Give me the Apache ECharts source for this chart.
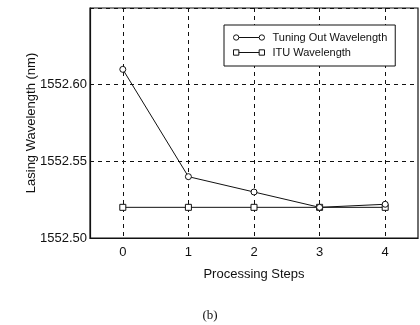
<!DOCTYPE html>
<html>
<head>
<meta charset="utf-8">
<script src="https://cdn.jsdelivr.net/npm/echarts@6/dist/echarts.min.js"></script>
<style>
  html, body { margin: 0; padding: 0; background: #fff; }
  #chart { width: 420px; height: 325px; }
</style>
</head>
<body>
<div id="chart"></div>
<script>
// Processing steps and measured lasing wavelengths (nm)
const steps = ['0', '1', '2', '3', '4'];
const tuningOut = [1552.610, 1552.540, 1552.530, 1552.520, 1552.522];
const ituWavelength = [1552.520, 1552.520, 1552.520, 1552.520, 1552.520];
const yTicks = { min: 1552.50, max: 1552.65, step: 0.05 };

const ink = '#111';
const font = 'Arial, "Liberation Sans", Helvetica, sans-serif';

// legend glyphs: marker - line - marker
const circleIcon = 'path://M1,4a2.5,2.5 0 1,0 5,0a2.5,2.5 0 1,0 -5,0M6,4L25,4M25,4a2.5,2.5 0 1,0 5,0a2.5,2.5 0 1,0 -5,0';
const squareIcon = 'path://M1,1.5L6,1.5L6,6.5L1,6.5ZM6,4L25,4M25,1.5L30,1.5L30,6.5L25,6.5Z';

const chart = echarts.init(document.getElementById('chart'), null, { renderer: 'canvas' });

chart.setOption({
  animation: false,
  backgroundColor: '#fff',
  textStyle: { fontFamily: font, color: ink },
  grid: {
    left: 90, right: 2, top: 8, bottom: 87,
    show: true, borderColor: ink, borderWidth: 1.2, backgroundColor: 'transparent'
  },
  title: {
    text: '(b)',
    left: 'center',
    bottom: -2,
    textStyle: { fontFamily: '"Liberation Serif", "DejaVu Serif", serif', fontSize: 13, fontWeight: 'normal', color: ink }
  },
  legend: {
    orient: 'vertical',
    left: 224,
    top: 25,
    padding: [7, 8, 8, 9],
    itemWidth: 31,
    itemHeight: 8,
    itemGap: 4,
    backgroundColor: '#fff',
    borderColor: ink,
    borderWidth: 1,
    textStyle: { fontFamily: font, fontSize: 11, color: ink, padding: [0, 0, 0, 3] },
    itemStyle: { color: 'transparent', borderColor: ink, borderWidth: 1 },
    data: [
      { name: 'Tuning Out Wavelength', icon: circleIcon },
      { name: 'ITU Wavelength', icon: squareIcon }
    ]
  },
  xAxis: {
    type: 'category',
    data: steps,
    boundaryGap: true,
    name: 'Processing Steps',
    nameLocation: 'middle',
    nameGap: 30,
    nameTextStyle: { fontFamily: font, fontSize: 13, color: ink },
    axisLine: { lineStyle: { color: ink, width: 1.2 } },
    axisTick: { show: false, alignWithLabel: true },
    axisLabel: { fontFamily: font, fontSize: 13, color: ink, margin: 8 },
    splitLine: {
      show: true,
      alignWithLabel: true,
      lineStyle: { color: ink, type: [4, 4], width: 1 }
    }
  },
  yAxis: {
    type: 'value',
    min: yTicks.min,
    max: yTicks.max,
    interval: yTicks.step,
    name: 'Lasing Wavelength (nm)',
    nameLocation: 'middle',
    nameGap: 52,
    nameMoveOverlap: false,
    nameTextStyle: { fontFamily: font, fontSize: 13, color: ink },
    axisLine: { show: true, lineStyle: { color: ink, width: 1.2 } },
    axisTick: { show: false },
    axisLabel: {
      fontFamily: font, fontSize: 13, color: ink, margin: 3,
      showMaxLabel: false,
      formatter: v => v.toFixed(2)
    },
    splitLine: { show: true, lineStyle: { color: ink, type: [4, 4], width: 1 } }
  },
  series: [
    {
      name: 'Tuning Out Wavelength',
      type: 'line',
      data: tuningOut,
      symbol: 'circle',
      symbolSize: 6,
      itemStyle: { color: '#fff', borderColor: ink, borderWidth: 1 },
      lineStyle: { color: ink, width: 1 },
      z: 3
    },
    {
      name: 'ITU Wavelength',
      type: 'line',
      data: ituWavelength,
      symbol: 'rect',
      symbolSize: 6,
      itemStyle: { color: '#fff', borderColor: ink, borderWidth: 1 },
      lineStyle: { color: ink, width: 1 },
      z: 2
    }
  ]
});
</script>
</body>
</html>
